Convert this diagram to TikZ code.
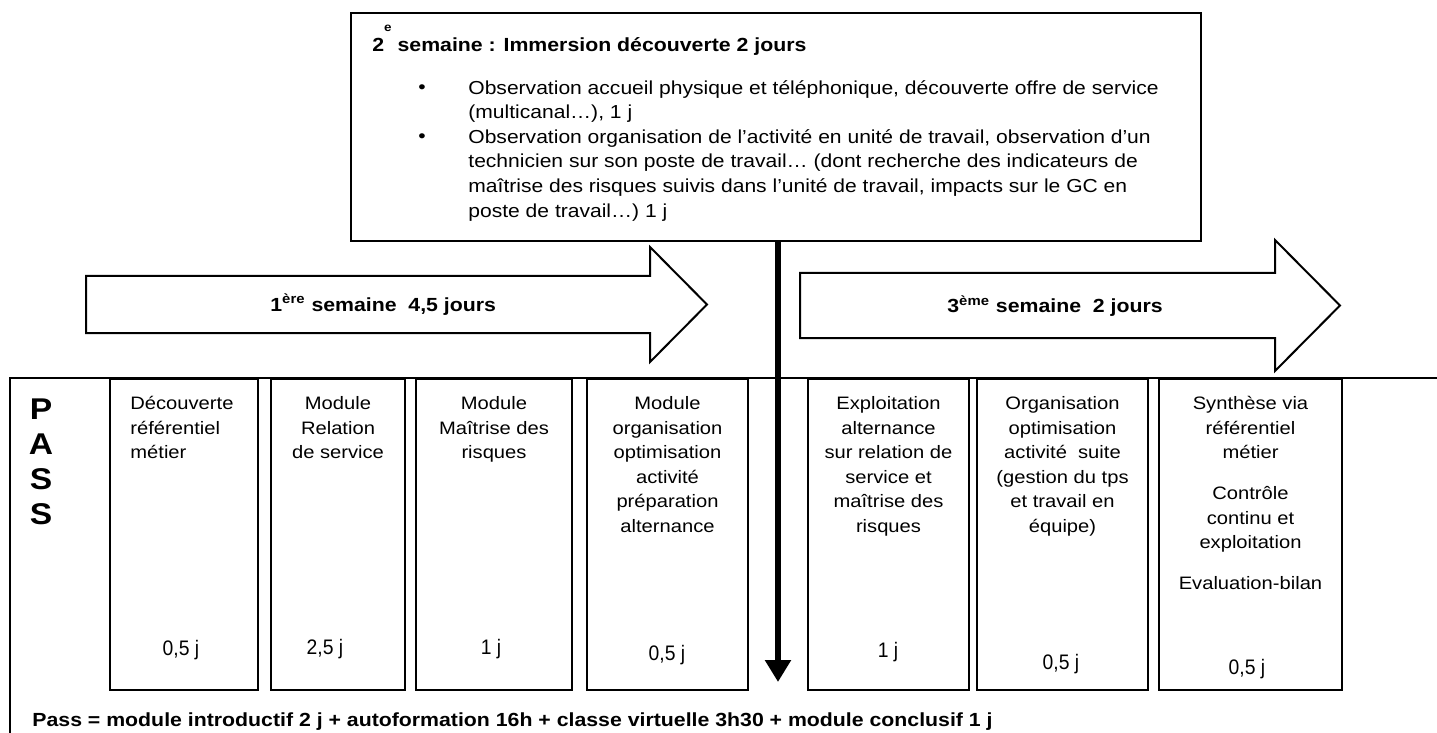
\documentclass[tikz,border=0pt]{standalone}
\usepackage{fontspec}
\setmainfont{Liberation Sans}[FakeStretch=1.12]
\newfontfamily\dayfont{Liberation Sans}[FakeStretch=0.92]
\usetikzlibrary{arrows.meta}

\begin{document}
\begin{tikzpicture}[x=0.5pt, y=-0.5pt, >={Triangle[length=11pt,width=12.5pt]},
    boxline/.style={draw, line width=1pt},
    modbox/.style={boxline, anchor=north west, minimum height=155.5pt, inner sep=0pt},
    modtext/.style={anchor=north, align=center, inner sep=0pt, font=\fontsize{9}{12.3}\selectfont},
    daytext/.style={anchor=base, inner sep=0pt, font=\dayfont\fontsize{10.5}{12}\selectfont},
    boldtext/.style={anchor=base west, inner sep=0pt, font=\bfseries\fontsize{9.5}{11}\selectfont},
    obstext/.style={anchor=north west, align=left, inner sep=0pt, font=\fontsize{9.4}{12.35}\selectfont}]
      \useasboundingbox (0,0) rectangle (1437,733);
      % second week
      \node[boxline, anchor=north west, minimum width=425pt, minimum height=114pt, inner sep=0pt] (topbox) at (350,12) {};
      \node[boldtext] (title) at (372,52) {2\raisebox{10pt}{\fontsize{6}{6}\selectfont e}\ semaine : Immersion découverte 2 jours};
      \node[anchor=base, inner sep=0pt, font=\fontsize{9.4}{12}\selectfont] (dot1) at (422,94) {•};
      \node[anchor=base, inner sep=0pt, font=\fontsize{9.4}{12}\selectfont] (dot2) at (422,143) {•};
      \node[obstext] (obs1) at (468,80) {Observation accueil physique et téléphonique, découverte offre de service\\(multicanal…), 1 j};
      \node[obstext] (obs2) at (468,129) {Observation organisation de l’activité en unité de travail, observation d’un\\technicien sur son poste de travail… (dont recherche des indicateurs de\\maîtrise des risques suivis dans l’unité de travail, impacts sur le GC en\\poste de travail…) 1 j};
      % first and third week
      \draw[boxline, fill=white] (86,276) -- (650,276) -- (650,247) -- (707,304.5) -- (650,362) -- (650,333) -- (86,333) -- cycle;
      \node[boldtext] (week1) at (270,311) {1\textsuperscript{ère} semaine\ \ 4,5 jours};
      \draw[boxline, fill=white] (800,273) -- (1275,273) -- (1275,240) -- (1340,305.5) -- (1275,371) -- (1275,338) -- (800,338) -- cycle;
      \node[boldtext] (week3) at (947,313) {3\textsuperscript{ème} semaine\ \ 2 jours};
      % modules
      \draw[boxline] (10,733) -- (10,378) -- (1437,378);
      \node[anchor=north, align=center, inner sep=0pt, font=\bfseries\fontsize{15}{17.5}\selectfont] (pass) at (41,398) {P\\A\\S\\S};
      \node[modbox, minimum width=74pt] (m1) at (109,378) {};
      \node[modbox, minimum width=67pt] (m2) at (270,378) {};
      \node[modbox, minimum width=78pt] (m3) at (415,378) {};
      \node[modbox, minimum width=80.5pt] (m4) at (586,378) {};
      \node[modbox, minimum width=80.5pt] (m5) at (807,378) {};
      \node[modbox, minimum width=85.5pt] (m6) at (976,378) {};
      \node[modbox, minimum width=91.5pt] (m7) at (1158,378) {};
      \node[modtext, anchor=north west, align=left] (t1) at (130,396) {Découverte\\référentiel\\métier};
      \node[modtext] (t2) at ([yshift=-9pt]m2.north) {Module\\Relation\\de service};
      \node[modtext] (t3) at ([yshift=-9pt]m3.north) {Module\\Maîtrise des\\risques};
      \node[modtext] (t4) at ([yshift=-9pt]m4.north) {Module\\organisation\\optimisation\\activité\\préparation\\alternance};
      \node[modtext] (t5) at ([yshift=-9pt]m5.north) {Exploitation\\alternance\\sur relation de\\service et\\maîtrise des\\risques};
      \node[modtext] (t6) at ([yshift=-9pt]m6.north) {Organisation\\optimisation\\activité\ \ suite\\(gestion du tps\\et travail en\\équipe)};
      \node[modtext] (t7) at ([yshift=-9pt]m7.north) {Synthèse via\\référentiel\\métier\\[8pt]Contrôle\\continu et\\exploitation\\[8pt]Evaluation-bilan};
      \node[daytext] (d1) at (181,655) {0,5 j};
      \node[daytext] (d2) at (325,654) {2,5 j};
      \node[daytext] (d3) at (491,654) {1 j};
      \node[daytext] (d4) at (667,660) {0,5 j};
      \node[daytext] (d5) at (888,657) {1 j};
      \node[daytext] (d6) at (1061,669) {0,5 j};
      \node[daytext] (d7) at (1247,674) {0,5 j};
      % stage in between
      \coordinate (spinetip) at (778,682);
      \draw[->, line width=3pt] (topbox.south -| spinetip) -- (spinetip);
      \node[boldtext] (passline) at (32,726) {Pass = module introductif 2 j + autoformation 16h + classe virtuelle 3h30 + module conclusif 1 j};
    \end{tikzpicture}
\end{document}
